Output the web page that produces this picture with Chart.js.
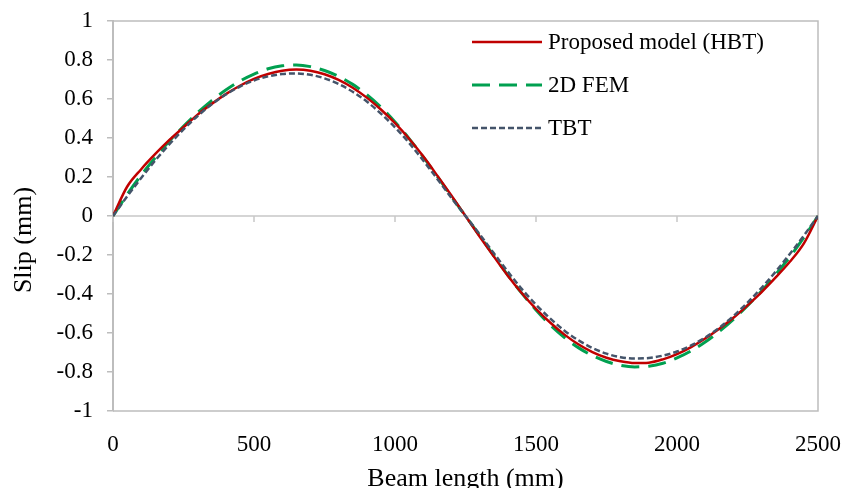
<!DOCTYPE html>
<html>
<head>
<meta charset="utf-8">
<script src="https://cdn.jsdelivr.net/npm/chart.js@4/dist/chart.umd.min.js"></script>
<style>
  html, body { margin: 0; padding: 0; background: #ffffff; }
  #wrap { width: 845px; height: 488px; }
</style>
</head>
<body>
<div id="wrap"><canvas id="c" width="845" height="488"></canvas></div>
<script>
// Position along the beam (mm)
const beamLength = [0, 50, 100, 150, 200, 250, 300, 350, 400, 450, 500, 550, 600, 650, 700, 750, 800, 850, 900, 950,
  1000, 1050, 1100, 1150, 1200, 1250, 1300, 1350, 1400, 1450, 1500, 1550, 1600, 1650, 1700, 1750, 1800, 1850, 1900, 1950,
  2000, 2050, 2100, 2150, 2200, 2250, 2300, 2350, 2400, 2450, 2500];

// Interface slip (mm)
const slipHBT = [0, 0.150, 0.240, 0.318, 0.390, 0.455, 0.520, 0.575, 0.625, 0.668, 0.703, 0.728, 0.745, 0.751, 0.745, 0.727, 0.698, 0.658, 0.607, 0.546,
  0.476, 0.396, 0.306, 0.207, 0.105, 0, -0.105, -0.207, -0.306, -0.396, -0.476, -0.546, -0.607, -0.658, -0.698, -0.727, -0.745, -0.754, -0.752, -0.735,
  -0.708, -0.672, -0.628, -0.578, -0.522, -0.458, -0.390, -0.315, -0.235, -0.140, 0];

const slipFEM = [0, 0.110, 0.210, 0.300, 0.385, 0.460, 0.530, 0.592, 0.646, 0.692, 0.728, 0.755, 0.770, 0.774, 0.766, 0.746, 0.716, 0.675, 0.622, 0.558,
  0.482, 0.397, 0.303, 0.203, 0.100, 0, -0.100, -0.203, -0.303, -0.397, -0.482, -0.558, -0.622, -0.675, -0.716, -0.746, -0.766, -0.774, -0.770, -0.755,
  -0.728, -0.692, -0.646, -0.592, -0.530, -0.460, -0.385, -0.300, -0.210, -0.110, 0];

const slipTBT = [0, 0.100, 0.195, 0.285, 0.368, 0.444, 0.513, 0.573, 0.623, 0.664, 0.695, 0.716, 0.728, 0.731, 0.724, 0.706, 0.677, 0.637, 0.587, 0.525,
  0.455, 0.375, 0.285, 0.190, 0.093, 0, -0.093, -0.190, -0.285, -0.375, -0.455, -0.525, -0.587, -0.637, -0.677, -0.706, -0.724, -0.731, -0.728, -0.716,
  -0.695, -0.664, -0.623, -0.573, -0.513, -0.444, -0.368, -0.285, -0.195, -0.100, 0];

const seriesNames = ['Proposed model (HBT)', '2D FEM', 'TBT'];
const xTicks = [0, 500, 1000, 1500, 2000, 2500];
const yTicks = [-1, -0.8, -0.6, -0.4, -0.2, 0, 0.2, 0.4, 0.6, 0.8, 1];
const xTitle = 'Beam length (mm)';
const yTitle = 'Slip (mm)';

const FONT = '"Liberation Serif", "Times New Roman", serif';
const AXIS_GREY = '#bdbdbd';

const toPoints = ys => beamLength.map((x, i) => ({ x: x, y: ys[i] }));

// Plot frame, zero line with its tick marks, axis titles and the legend
const decorations = {
  id: 'decorations',
  beforeDatasetsDraw(chart) {
    const { ctx, chartArea: a, scales: { x, y } } = chart;
    ctx.save();
    ctx.strokeStyle = AXIS_GREY;
    ctx.lineWidth = 1.5;
    ctx.beginPath();
    ctx.moveTo(a.left, a.top); ctx.lineTo(a.right, a.top);
    ctx.lineTo(a.right, a.bottom); ctx.lineTo(a.left, a.bottom);
    ctx.stroke();
    const y0 = y.getPixelForValue(0);
    ctx.strokeStyle = '#c8c8c8';
    ctx.beginPath();
    ctx.moveTo(a.left, y0); ctx.lineTo(a.right, y0);
    xTicks.forEach(v => {
      const px = x.getPixelForValue(v);
      ctx.moveTo(px, y0); ctx.lineTo(px, y0 + 6);
    });
    ctx.stroke();
    ctx.restore();
  },
  afterDraw(chart) {
    const { ctx, chartArea: a } = chart;
    ctx.save();
    ctx.fillStyle = '#000000';
    ctx.font = '26px ' + FONT;
    ctx.textAlign = 'center';
    ctx.textBaseline = 'middle';
    ctx.fillText(xTitle, (a.left + a.right) / 2, 479);
    ctx.translate(24, 240);
    ctx.rotate(-Math.PI / 2);
    ctx.fillText(yTitle, 0, 0);
    ctx.restore();

    // legend
    ctx.save();
    const rows = [42, 85, 128];
    chart.data.datasets.forEach((ds, i) => {
      ctx.strokeStyle = ds.borderColor;
      ctx.lineWidth = ds.borderWidth;
      ctx.setLineDash(ds.borderDash || []);
      ctx.beginPath();
      ctx.moveTo(472, rows[i]);
      ctx.lineTo(542, rows[i]);
      ctx.stroke();
      ctx.setLineDash([]);
      ctx.fillStyle = '#000000';
      ctx.font = '23px ' + FONT;
      ctx.textAlign = 'left';
      ctx.textBaseline = 'middle';
      ctx.fillText(ds.label, 548, rows[i] + 1);
    });
    ctx.restore();
  }
};

new Chart(document.getElementById('c'), {
  type: 'line',
  data: {
    datasets: [
      { label: seriesNames[0], data: toPoints(slipHBT), borderColor: '#c00000', borderWidth: 2.5, order: 1 },
      { label: seriesNames[1], data: toPoints(slipFEM), borderColor: '#00a050', borderWidth: 3, borderDash: [18, 9], order: 2 },
      { label: seriesNames[2], data: toPoints(slipTBT), borderColor: '#44546a', borderWidth: 2.5, borderDash: [6, 3], order: 0 }
    ]
  },
  options: {
    responsive: false,
    animation: false,
    devicePixelRatio: 1,
    layout: { autoPadding: false, padding: { top: 21, right: 27, left: 0, bottom: 0 } },
    elements: { point: { radius: 0 }, line: { cubicInterpolationMode: 'monotone', fill: false } },
    plugins: { legend: { display: false }, tooltip: { enabled: false } },
    scales: {
      x: {
        type: 'linear', min: 0, max: 2500,
        afterBuildTicks: s => { s.ticks = xTicks.map(v => ({ value: v })); },
        afterFit: s => { s.height = 77; s.paddingLeft = 0; s.paddingRight = 0; },
        grid: { display: false },
        border: { display: false },
        ticks: { color: '#000000', font: { family: FONT, size: 23 }, padding: 12, maxRotation: 0, callback: v => String(v) }
      },
      y: {
        type: 'linear', min: -1, max: 1,
        afterBuildTicks: s => { s.ticks = yTicks.map(v => ({ value: v })); },
        afterFit: s => { s.width = 113; s.paddingTop = 0; s.paddingBottom = 0; },
        grid: { drawOnChartArea: false, drawTicks: true, tickLength: 6, color: AXIS_GREY, lineWidth: 1.5 },
        border: { display: true, color: AXIS_GREY, width: 2 },
        ticks: { color: '#000000', font: { family: FONT, size: 23 }, padding: 14, callback: v => String(v) }
      }
    }
  },
  plugins: [decorations]
});
</script>
</body>
</html>
